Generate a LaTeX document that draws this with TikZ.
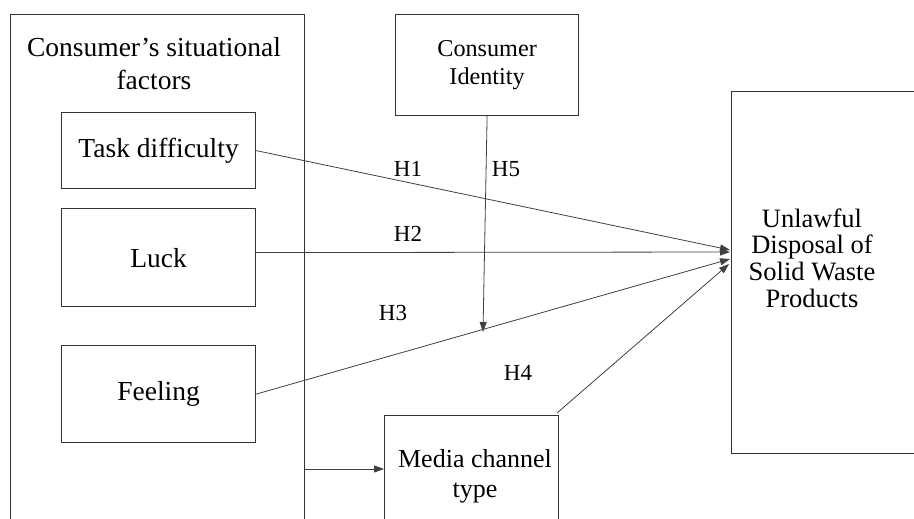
\documentclass[tikz,border=0pt]{standalone}
\usepackage{fontspec}
\setmainfont{Liberation Serif}
\usetikzlibrary{arrows.meta}
\begin{document}
\begin{tikzpicture}[x=1pt,y=-1pt,
  box/.style={draw=black!80,line width=1.2pt,rectangle,inner sep=0pt,anchor=north west},
  txt/.style={font=\fontsize{27.5}{30}\selectfont,align=center,inner sep=0pt},
  hlbl/.style={font=\fontsize{23}{24}\selectfont,inner sep=0pt},
  conn/.style={draw=black!75,line width=0.8pt,-{Triangle[length=10pt,width=7pt]}},
]
\clip (0,0) rectangle (914,519);
\fill[white] (0,0) rectangle (914,519);
% boxes
\node[box,minimum width=294pt,minimum height=530pt] (outer) at (10,14) {};
\node[box,minimum width=194pt,minimum height=76pt] (task) at (61,112) {};
\node[box,minimum width=194pt,minimum height=98pt] (luck) at (61,208) {};
\node[box,minimum width=194pt,minimum height=97pt] (feel) at (61,345) {};
\node[box,minimum width=183pt,minimum height=101pt] (ci) at (395,14) {};
\node[box,minimum width=174pt,minimum height=130pt] (media) at (384,415) {};
\node[box,minimum width=200pt,minimum height=362pt] (out) at (731,91) {};
% texts
\node[txt,font=\fontsize{27.5}{33}\selectfont] (outertxt) at (154,64) {Consumer’s situational\\factors};
\node[txt] (tasktxt) at (task.center) {Task difficulty};
\node[txt] (lucktxt) at (luck.center) {Luck};
\node[txt] (feeltxt) at (feel.center) {Feeling};
\node[txt,font=\fontsize{24.2}{28}\selectfont] (citxt) at (ci.center) {Consumer\\Identity};
\node[txt,font=\fontsize{26}{30}\selectfont] (mediatxt) at (475,476) {Media channel\\type};
\node[txt,font=\fontsize{26.5}{26.7}\selectfont] (outtxt) at (812,258) {Unlawful\\Disposal of\\Solid Waste\\Products};
% connector end points
\coordinate (e1) at (730,250);
\coordinate (e2) at (730,252);
\coordinate (e3) at (730,259);
\coordinate (e4) at (729,264);
\coordinate (m5) at (483,332);
\coordinate (mi) at (384,469);
\coordinate (s4) at (557,413);
% connectors
\draw[conn] (task.east) -- (e1);
\draw[conn] ([yshift=5pt]luck.east) -- (e2);
\draw[conn] (feel.east) -- (e3);
\draw[conn] (s4) -- (e4);
\draw[conn] (ci.south) -- (m5);
\draw[conn] (outer.east |- mi) -- (mi);
% labels
\node[hlbl] (h1) at (408,169) {H1};
\node[hlbl] (h5) at (506,169) {H5};
\node[hlbl] (h2) at (408,234) {H2};
\node[hlbl] (h3) at (393,313) {H3};
\node[hlbl] (h4) at (518,373) {H4};
\end{tikzpicture}
\end{document}
